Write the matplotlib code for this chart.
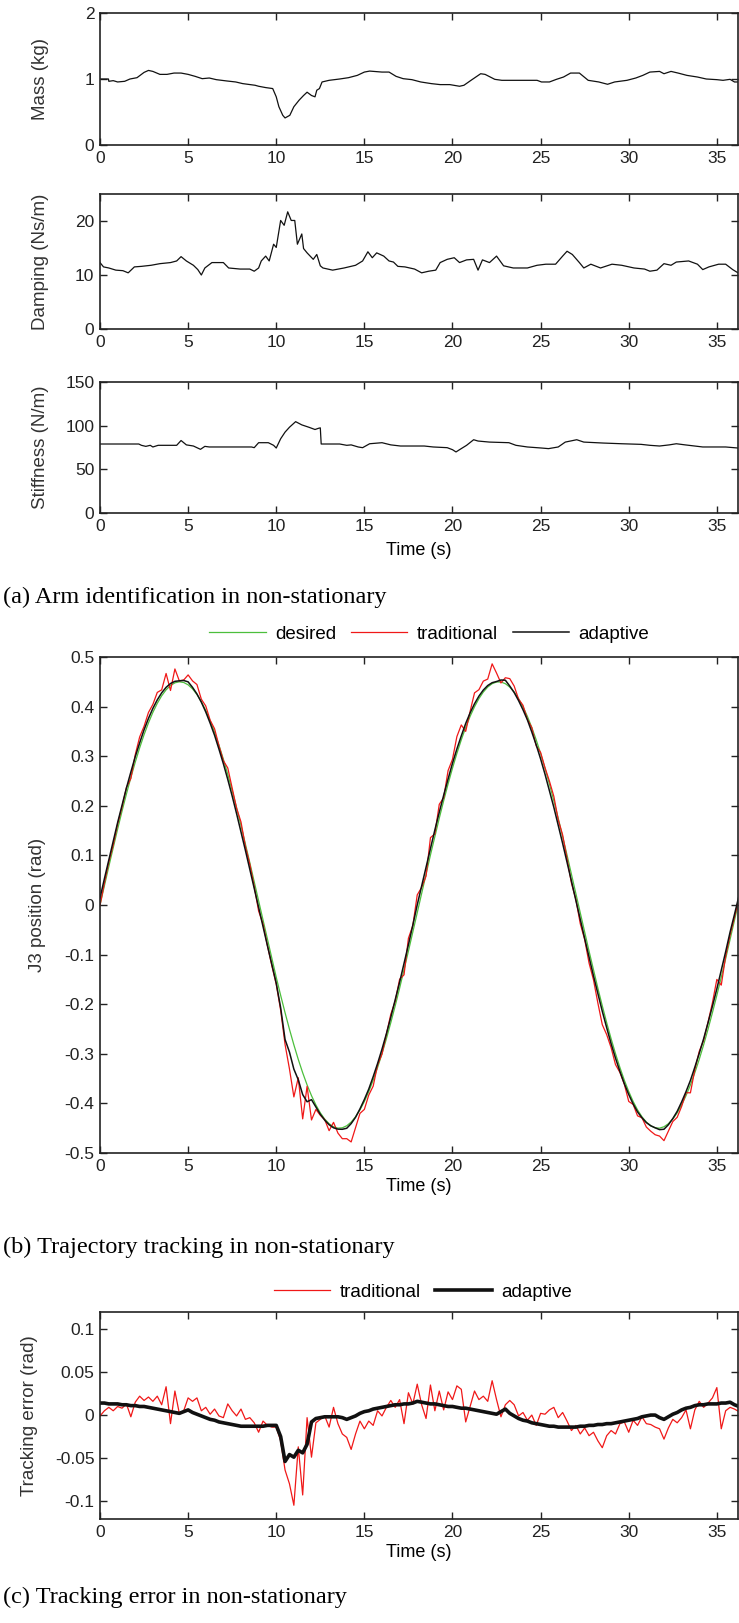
"""Arm identification / trajectory tracking figure in non-stationary conditions."""

import matplotlib

matplotlib.use("Agg")
import matplotlib.pyplot as plt
import numpy as np

# --- (a) identified arm parameters -------------------------------------------
MASS_T = [0, 0.48, 0.5, 0.75, 1.0, 1.4, 1.7, 2.1, 2.5, 2.75, 3.0, 3.4, 3.8, 4.2,
          4.6, 5.0, 5.4, 5.8, 6.2, 6.6, 7.2, 7.7, 8.1, 8.8, 9.0, 9.4, 9.8, 10.0,
          10.15, 10.37, 10.5, 10.77, 11.0, 11.3, 11.55, 11.75, 12.0, 12.2, 12.3,
          12.45, 12.6, 13.0, 13.6, 14.1, 14.6, 15.0, 15.3, 16.0, 16.4, 16.8, 17.2,
          17.7, 18.2, 18.8, 19.3, 19.85, 20.4, 20.65, 21.05, 21.6, 21.85, 22.4,
          22.8, 23.7, 24.8, 25.05, 25.5, 25.9, 26.3, 26.7, 27.2, 27.7, 28.3, 28.8,
          29.2, 29.9, 30.4, 30.8, 31.2, 31.75, 32.0, 32.4, 32.8, 33.3, 33.9, 34.4,
          35.0, 35.35, 35.75, 36.0, 36.2]
MASS_V = [1.00, 1.00, 0.965, 0.975, 0.955, 0.965, 1.0, 1.02, 1.10, 1.13, 1.115,
          1.07, 1.07, 1.09, 1.09, 1.07, 1.04, 1.005, 1.015, 0.99, 0.97, 0.955,
          0.93, 0.905, 0.89, 0.87, 0.855, 0.73, 0.58, 0.45, 0.41, 0.45, 0.58,
          0.68, 0.75, 0.80, 0.75, 0.73, 0.83, 0.855, 0.955, 0.98, 1.0, 1.02,
          1.055, 1.105, 1.12, 1.105, 1.105, 1.04, 1.005, 0.99, 0.955, 0.93,
          0.915, 0.915, 0.89, 0.905, 0.98, 1.08, 1.07, 0.995, 0.98, 0.98, 0.98,
          0.955, 0.955, 0.995, 1.03, 1.09, 1.09, 0.98, 0.955, 0.92, 0.955, 0.98,
          1.015, 1.055, 1.105, 1.115, 1.08, 1.115, 1.09, 1.055, 1.03, 1.0, 0.99,
          0.98, 0.995, 0.955, 0.955]

DAMP_T = [0, 0.2, 0.5, 0.9, 1.3, 1.6, 1.95, 2.35, 2.9, 3.4, 4.0, 4.35, 4.6, 4.9,
          5.3, 5.55, 5.75, 5.95, 6.35, 7.0, 7.3, 7.95, 8.5, 8.75, 9.0, 9.15, 9.4,
          9.6, 9.85, 10.0, 10.25, 10.45, 10.65, 10.85, 11.05, 11.2, 11.45, 11.55,
          11.75, 12.1, 12.3, 12.5, 12.65, 13.2, 13.85, 14.5, 14.9, 15.2, 15.45,
          15.7, 16.1, 16.4, 16.65, 16.9, 17.3, 17.85, 18.25, 18.65, 19.05, 19.3,
          19.7, 20.1, 20.4, 20.8, 21.2, 21.45, 21.7, 22.1, 22.5, 22.9, 23.45,
          24.25, 24.8, 25.3, 25.85, 26.25, 26.5, 26.8, 27.2, 27.45, 27.85, 28.4,
          29.05, 29.6, 30.3, 30.9, 31.2, 31.6, 32.0, 32.4, 32.7, 33.4, 33.9, 34.2,
          34.55, 35.1, 35.5, 35.9, 36.2]
DAMP_V = [12.3, 11.5, 11.3, 10.9, 10.8, 10.4, 11.5, 11.6, 11.8, 12.1, 12.3, 12.6,
          13.4, 12.6, 11.8, 11.0, 10.0, 11.3, 12.3, 12.3, 11.3, 11.1, 11.1, 10.7,
          11.3, 12.6, 13.5, 12.6, 15.7, 15.1, 20.1, 19.2, 21.7, 20.1, 20.1, 15.7,
          17.6, 14.9, 14.1, 12.9, 13.8, 11.7, 11.3, 10.9, 11.3, 11.8, 12.6, 14.3,
          13.2, 14.1, 13.5, 12.6, 12.4, 11.6, 11.5, 11.1, 10.4, 10.7, 10.9, 12.3,
          12.9, 13.2, 12.3, 12.8, 12.9, 10.9, 12.8, 12.3, 13.5, 11.7, 11.3, 11.3,
          11.8, 12.0, 12.0, 13.5, 14.4, 13.8, 12.3, 11.3, 12.0, 11.3, 12.0, 11.8,
          11.3, 11.1, 10.7, 10.9, 12.1, 11.8, 12.4, 12.6, 12.0, 11.0, 11.5, 12.0,
          12.0, 11.0, 10.4]

STIFF_T = [0, 2.2, 2.35, 2.6, 2.85, 3.0, 3.3, 4.35, 4.6, 4.9, 5.3, 5.7, 5.95, 6.2,
           8.6, 8.75, 9.0, 9.55, 9.85, 10.0, 10.25, 10.5, 10.75, 11.1, 11.45,
           11.85, 12.2, 12.4, 12.5, 12.55, 13.6, 14.0, 14.25, 14.65, 14.9, 15.3,
           16.0, 16.5, 17.05, 18.4, 18.9, 19.7, 20.0, 20.2, 20.4, 20.8, 21.2,
           21.45, 22.1, 23.2, 23.6, 24.25, 25.05, 25.45, 26.0, 26.4, 27.05, 27.45,
           28.55, 29.6, 30.7, 31.2, 31.75, 32.3, 32.7, 33.2, 34.2, 35.5, 36.2]
STIFF_V = [79, 79, 77.5, 76.3, 77.5, 75.6, 77.5, 77.5, 83, 78, 76.7, 72.9, 76.3,
           75.6, 75.6, 74.8, 80.5, 80.5, 77.5, 74.4, 85, 92.6, 98.2, 104.6, 100.9,
           98.2, 95.6, 97, 97.5, 79, 79, 77.5, 78, 75.6, 74.8, 79.3, 80.5, 78,
           76.7, 76.7, 75.6, 74.8, 72.5, 69.9, 72.5, 77.5, 83.9, 82.4, 81.2, 80.5,
           77.5, 75.6, 74.4, 73.7, 75.6, 81.2, 83.9, 81.2, 80.1, 79.3, 78.6, 77.5,
           76.7, 78, 79.3, 78, 75.6, 75.6, 74.4]

# --- (b)/(c) trajectory tracking, sampled every 0.25 s ----------------------
TIME = np.arange(146) * 0.25
DESIRED = [
    0.0000, 0.0390, 0.0777, 0.1158, 0.1531, 0.1892, 0.2239, 0.2569, 0.2880, 0.3168,
    0.3433, 0.3672, 0.3884, 0.4066, 0.4218, 0.4338, 0.4425, 0.4479, 0.4500, 0.4486,
    0.4439, 0.4358, 0.4245, 0.4099, 0.3923, 0.3716, 0.3483, 0.3222, 0.2939, 0.2632,
    0.2307, 0.1962, 0.1604, 0.1233, 0.0854, 0.0467, 0.0078, -0.0312, -0.0700, -0.1083,
    -0.1458, -0.1821, -0.2171, -0.2505, -0.2819, -0.3113, -0.3382, -0.3627, -0.3844, -0.4032,
    -0.4190, -0.4317, -0.4410, -0.4472, -0.4499, -0.4492, -0.4451, -0.4377, -0.4270, -0.4131,
    -0.3961, -0.3761, -0.3532, -0.3276, -0.2997, -0.2696, -0.2372, -0.2032, -0.1677, -0.1308,
    -0.0930, -0.0545, -0.0156, 0.0235, 0.0623, 0.1008, 0.1383, 0.1750, 0.2102, 0.2440,
    0.2758, 0.3056, 0.3330, 0.3580, 0.3803, 0.3997, 0.4161, 0.4294, 0.4395, 0.4462,
    0.4496, 0.4496, 0.4462, 0.4394, 0.4294, 0.4161, 0.3997, 0.3803, 0.3578, 0.3329,
    0.3056, 0.2757, 0.2438, 0.2101, 0.1749, 0.1382, 0.1006, 0.0621, 0.0234, -0.0157,
    -0.0546, -0.0932, -0.1309, -0.1678, -0.2033, -0.2374, -0.2696, -0.2998, -0.3276, -0.3533,
    -0.3760, -0.3961, -0.4131, -0.4270, -0.4377, -0.4451, -0.4492, -0.4499, -0.4471, -0.4410,
    -0.4316, -0.4190, -0.4032, -0.3844, -0.3627, -0.3381, -0.3112, -0.2818, -0.2503, -0.2169,
    -0.1820, -0.1456, -0.1082, -0.0698, -0.0311, 0.0079,
]
# tracking error (actual - desired)
ERR_TRADITIONAL = [
    -0.001, 0.005, 0.009, 0.005, 0.010, 0.008, 0.013, -0.002, 0.015, 0.022,
    0.017, 0.021, 0.016, 0.022, 0.012, 0.033, -0.010, 0.028, 0.002, 0.005,
    0.020, 0.016, 0.020, 0.005, 0.009, 0.001, 0.007, -0.001, -0.003, 0.013,
    0.005, -0.001, 0.007, -0.005, -0.003, -0.009, -0.020, -0.007, -0.012, -0.014,
    -0.014, -0.030, -0.064, -0.080, -0.105, -0.037, -0.093, -0.003, -0.049, -0.009,
    -0.005, -0.001, -0.014, 0.009, -0.010, -0.022, -0.026, -0.040, -0.022, -0.007,
    -0.016, -0.007, -0.012, 0.005, -0.001, 0.009, 0.017, 0.009, 0.018, -0.010,
    0.026, 0.013, 0.036, 0.012, -0.004, 0.035, 0.005, 0.028, 0.006, 0.027,
    0.018, 0.034, 0.030, -0.008, 0.010, 0.028, 0.018, 0.022, 0.016, 0.040,
    0.018, -0.002, 0.012, 0.017, 0.012, -0.001, 0.003, -0.006, 0.000, -0.012,
    0.002, 0.001, 0.006, 0.009, -0.003, 0.003, -0.007, -0.018, -0.012, -0.022,
    -0.015, -0.024, -0.020, -0.030, -0.038, -0.024, -0.018, -0.022, -0.010, -0.008,
    -0.020, -0.006, -0.012, -0.002, -0.010, -0.011, -0.014, -0.016, -0.028, -0.015,
    -0.005, -0.009, -0.003, 0.006, -0.016, 0.006, 0.016, 0.009, 0.014, 0.020,
    0.032, -0.016, 0.005, 0.009, 0.007, 0.004,
]
ERR_ADAPTIVE = [
    0.014, 0.014, 0.013, 0.013, 0.013, 0.012, 0.012, 0.011,
    0.011, 0.010, 0.010, 0.009, 0.008, 0.007, 0.006, 0.005,
    0.004, 0.003, 0.002, 0.004, 0.006, 0.003, 0.001, -0.001,
    -0.003, -0.005, -0.006, -0.008, -0.009, -0.010, -0.011, -0.012,
    -0.013, -0.013, -0.013, -0.013, -0.013, -0.013, -0.012, -0.012,
    -0.012, -0.025, -0.054, -0.046, -0.049, -0.041, -0.044, -0.034,
    -0.008, -0.004, -0.003, -0.002, -0.002, -0.002, -0.002, -0.003,
    -0.005, -0.003, -0.001, 0.002, 0.004, 0.005, 0.007, 0.008,
    0.009, 0.010, 0.011, 0.012, 0.012, 0.013, 0.013, 0.014,
    0.016, 0.015, 0.014, 0.013, 0.013, 0.012, 0.011, 0.010,
    0.010, 0.009, 0.008, 0.008, 0.007, 0.006, 0.005, 0.004,
    0.003, 0.002, 0.001, 0.004, 0.007, 0.002, -0.001, -0.004,
    -0.006, -0.007, -0.009, -0.010, -0.011, -0.012, -0.013, -0.013,
    -0.014, -0.014, -0.014, -0.014, -0.014, -0.013, -0.013, -0.012,
    -0.012, -0.011, -0.011, -0.010, -0.010, -0.009, -0.008, -0.007,
    -0.006, -0.005, -0.004, -0.002, -0.001, 0.000, 0.000, -0.003,
    -0.005, -0.002, 0.001, 0.003, 0.006, 0.008, 0.009, 0.011,
    0.012, 0.012, 0.013, 0.013, 0.013, 0.014, 0.014, 0.015,
    0.012, 0.010,
]

X_TICKS = [0, 5, 10, 15, 20, 25, 30, 35]
POS_TICKS = [0.5, 0.4, 0.3, 0.2, 0.1, 0, -0.1, -0.2, -0.3, -0.4, -0.5]
POS_LABELS = ["0.5", "0.4", "0.3", "0.2", "0.1", "0", "-0.1", "-0.2", "-0.3", "-0.4", "-0.5"]
ERR_TICKS = [0.1, 0.05, 0, -0.05, -0.1]
ERR_LABELS = ["0.1", "0.05", "0", "-0.05", "-0.1"]

COLOR_DESIRED = "#4cbf3c"
COLOR_TRAD = "#f01818"
COLOR_ADAPT = "#111111"

FIG_W, FIG_H = 739, 1623
LEFT, RIGHT = 100, 738
NARROW = ["Liberation Sans Narrow", "Liberation Sans", "DejaVu Sans"]
SANS = ["Liberation Sans", "DejaVu Sans"]
SERIF = ["Liberation Serif", "DejaVu Serif"]


def box(top, bottom):
    return [LEFT / FIG_W, 1 - bottom / FIG_H, (RIGHT - LEFT) / FIG_W, (bottom - top) / FIG_H]


def style(ax, ylim, yticks, ylabels, ylabel, label_x=-0.08):
    ax.set_xlim(0, 36.2)
    ax.set_ylim(*ylim)
    ax.set_xticks(X_TICKS)
    ax.set_xticklabels([str(t) for t in X_TICKS], family=NARROW)
    ax.set_yticks(yticks)
    ax.set_yticklabels(ylabels, family=NARROW)
    ax.tick_params(direction="in", length=5, width=1, top=True, right=True,
                   labelsize=12.5, pad=4, colors="#222222")
    for spine in ax.spines.values():
        spine.set_linewidth(1.2)
        spine.set_color("#222222")
    ax.set_ylabel(ylabel, family=SANS, fontsize=13.5, color="#333333")
    ax.yaxis.set_label_coords(label_x, 0.5)


def add_caption(fig, y_px, text):
    fig.text(0.004, 1 - y_px / FIG_H, text, family=SERIF, fontsize=17.5,
             va="center", ha="left")


def main():
    plt.rcParams["axes.unicode_minus"] = False
    plt.rcParams["font.family"] = NARROW

    desired = np.array(DESIRED)
    traditional = desired + np.array(ERR_TRADITIONAL)
    adaptive = desired + np.array(ERR_ADAPTIVE)

    fig = plt.figure(figsize=(FIG_W / 100, FIG_H / 100), dpi=100)
    fig.patch.set_facecolor("white")
    legend_kw = dict(bbox_transform=fig.transFigure, frameon=False,
                     prop={"family": NARROW, "size": 13.5}, handlelength=3.0,
                     handletextpad=0.5, columnspacing=0.8)

    # --- (a) parameter identification ------------------------------------
    ax_m = fig.add_axes(box(13, 145))
    ax_m.plot(MASS_T, MASS_V, color=COLOR_ADAPT, linewidth=0.9)
    style(ax_m, (0, 2), [0, 1, 2], ["0", "1", "2"], "Mass (kg)")

    ax_d = fig.add_axes(box(194, 329))
    ax_d.plot(DAMP_T, DAMP_V, color=COLOR_ADAPT, linewidth=0.9)
    style(ax_d, (0, 25), [0, 10, 20], ["0", "10", "20"], "Damping (Ns/m)")

    ax_k = fig.add_axes(box(382, 513))
    ax_k.plot(STIFF_T, STIFF_V, color=COLOR_ADAPT, linewidth=0.9)
    style(ax_k, (0, 150), [0, 50, 100, 150], ["0", "50", "100", "150"], "Stiffness (N/m)")
    ax_k.set_xlabel("Time (s)", family=NARROW, fontsize=13, labelpad=6)

    add_caption(fig, 597, "(a) Arm identification in non-stationary")

    # --- (b) trajectory tracking -----------------------------------------
    ax_b = fig.add_axes(box(657, 1153))
    ax_b.plot(TIME, desired, color=COLOR_DESIRED, linewidth=0.9, label="desired")
    ax_b.plot(TIME, traditional, color=COLOR_TRAD, linewidth=0.9, label="traditional")
    ax_b.plot(TIME, adaptive, color=COLOR_ADAPT, linewidth=1.1, label="adaptive")
    style(ax_b, (-0.5, 0.5), POS_TICKS, POS_LABELS, "J3 position (rad)", label_x=-0.085)
    ax_b.set_xlabel("Time (s)", family=NARROW, fontsize=13, labelpad=3)
    ax_b.legend(loc="center", bbox_to_anchor=(0.581, 1 - 634 / FIG_H), ncol=3, **legend_kw)

    add_caption(fig, 1247, "(b) Trajectory tracking in non-stationary")

    # --- (c) tracking error ----------------------------------------------
    ax_c = fig.add_axes(box(1312, 1519))
    ax_c.plot(TIME, ERR_TRADITIONAL, color=COLOR_TRAD, linewidth=0.9, label="traditional")
    ax_c.plot(TIME, ERR_ADAPTIVE, color=COLOR_ADAPT, linewidth=2.6, label="adaptive")
    style(ax_c, (-0.121, 0.12), ERR_TICKS, ERR_LABELS, "Tracking error (rad)", label_x=-0.097)
    ax_c.set_xlabel("Time (s)", family=NARROW, fontsize=13, labelpad=3)
    ax_c.legend(loc="center", bbox_to_anchor=(0.572, 1 - 1292 / FIG_H), ncol=2, **legend_kw)

    add_caption(fig, 1597, "(c) Tracking error in non-stationary")

    fig.savefig("out.png", dpi=100, facecolor="white")


if __name__ == "__main__":
    main()
